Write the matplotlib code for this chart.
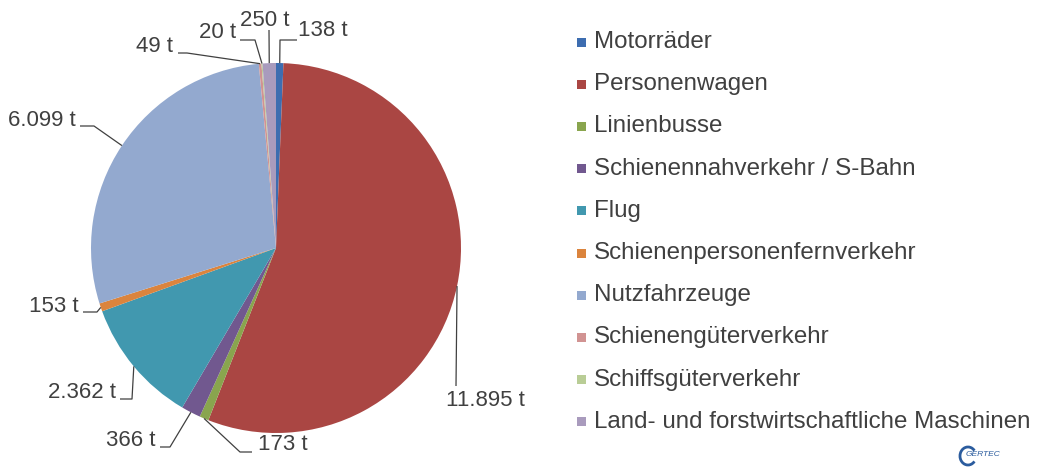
import matplotlib
matplotlib.use("Agg")
import matplotlib.pyplot as plt
from matplotlib.patches import Rectangle, Arc
import numpy as np

plt.rcParams.update({
    "font.family": ["Liberation Sans", "DejaVu Sans"],
    "text.color": "#404040",
})

# --- Data: CO2-Emissionen Verkehr (t) ---
categories = [
    "Motorräder",
    "Personenwagen",
    "Linienbusse",
    "Schienennahverkehr / S-Bahn",
    "Flug",
    "Schienenpersonenfernverkehr",
    "Nutzfahrzeuge",
    "Schienengüterverkehr",
    "Schiffsgüterverkehr",
    "Land- und forstwirtschaftliche Maschinen",
]
values = [138, 11895, 173, 366, 2362, 153, 6099, 49, 20, 250]
colors = ["#3D6DB0", "#AA4643", "#89A54E", "#71588F", "#4198AF",
          "#DB843D", "#93A9CF", "#D19392", "#B9CD96", "#A99BBD"]

# label layout in pixel coords (top-left origin): text centre, elbow(s) of leader line
label_text_pos = [(323, 31), (485, 401), (283, 445), (131, 441), (82, 393),
                  (54, 307), (42, 120), (154, 47), (218, 32), (265, 20)]
leader_elbows = [
    [(280, 40), (297, 40)],
    [(456, 386)],
    [(240, 452), (252, 452)],
    [(170, 447), (160, 447)],
    [(132, 399), (120, 399)],
    [(97, 312), (83, 312)],
    [(94, 126), (80, 126)],
    [(187, 53), (178, 53)],
    [(255, 40), (240, 40)],
    [(269, 30)],
]

W, H = 1039, 468
CX, CY, R = 276, 248, 185


def py(y):
    return H - y


def fmt(v):
    return f"{v:,}".replace(",", ".") + " t"


fig = plt.figure(figsize=(W / 100, H / 100), dpi=100)
ax = fig.add_axes([0, 0, 1, 1])

wedges, _ = ax.pie(values, colors=colors, startangle=90, counterclock=False,
                   center=(CX, py(CY)), radius=R,
                   wedgeprops=dict(linewidth=0))
ax.set_xlim(0, W)
ax.set_ylim(0, H)
ax.set_aspect("equal")
ax.axis("off")

# data labels with leader lines
for w, v, tp, elbows in zip(wedges, values, label_text_pos, leader_elbows):
    mid = np.deg2rad((w.theta1 + w.theta2) / 2)
    ax_x = CX + R * np.cos(mid)
    ax_y = py(CY) + R * np.sin(mid)
    xs = [ax_x] + [e[0] for e in elbows]
    ys = [ax_y] + [py(e[1]) for e in elbows]
    ax.plot(xs, ys, color="#404040", lw=0.9, solid_capstyle="butt")
    ax.text(tp[0], py(tp[1]), fmt(v), ha="center", va="center", fontsize=16)

# legend
leg_x, leg_y0, leg_dy = 577, 42, 42.2
for i, (name, c) in enumerate(zip(categories, colors)):
    y = leg_y0 + i * leg_dy
    ax.add_patch(Rectangle((leg_x, py(y) - 4.5), 9, 9, color=c, lw=0))
    ax.text(leg_x + 17, py(y), name, ha="left", va="center", fontsize=17.4)

# small logo
ax.add_patch(Arc((968, py(456)), 16, 18, theta1=40, theta2=320,
                 color="#2B5C9E", lw=2))
ax.text(966, py(455), "GERTEC", fontsize=6, style="italic",
        color="#2B5C9E", ha="left", va="center")

fig.savefig("out.png", dpi=100)
